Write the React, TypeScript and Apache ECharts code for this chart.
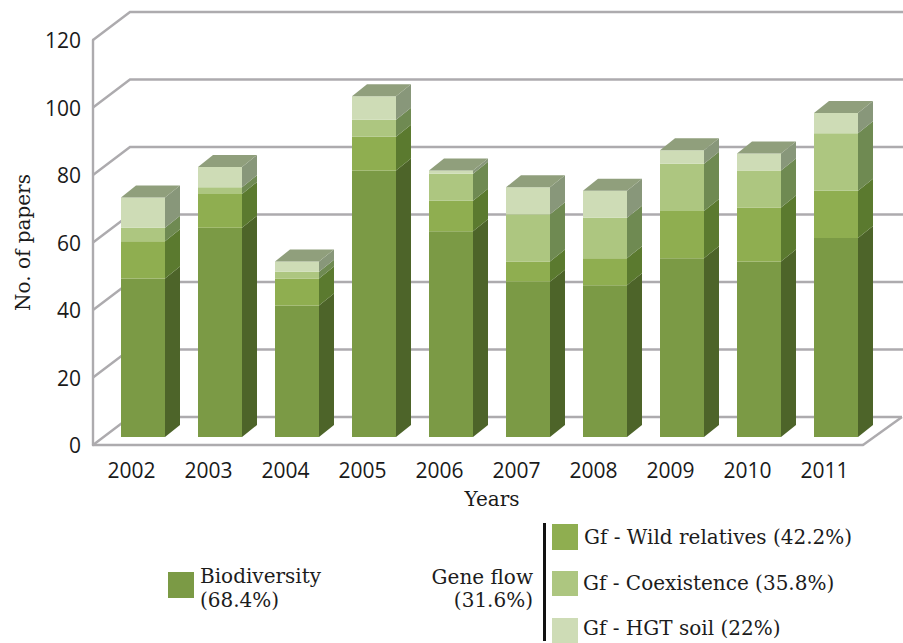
import React, { useEffect, useRef } from "react";
import * as echarts from "echarts";

const years = ["2002", "2003", "2004", "2005", "2006", "2007", "2008", "2009", "2010", "2011"];
const biodiversity = [47, 62, 39, 79, 61, 46, 45, 53, 52, 59];
const wildRelatives = [11, 10, 8, 10, 9, 6, 8, 14, 16, 14];
const coexistence = [4, 2, 2, 5, 8, 14, 12, 14, 11, 17];
const hgtSoil = [9, 6, 3, 7, 1, 8, 8, 4, 5, 6];
const wallTicks = [0, 20, 40, 60, 80, 100, 120];

const SERIF = "'DejaVu Serif', 'Liberation Serif', serif";
const SANS = "'Open Sans', 'Noto Sans', sans-serif";
const GRID_COLOR = "#adabae";

const layers = [
  { name: "Biodiversity", values: biodiversity, front: "#7b9a45", side: "#4d6429" },
  { name: "Gf - Wild relatives", values: wildRelatives, front: "#8fae50", side: "#5b7a2f" },
  { name: "Gf - Coexistence", values: coexistence, front: "#adc680", side: "#6f8a52" },
  { name: "Gf - HGT soil", values: hgtSoil, front: "#cedcb6", side: "#88977a" },
];
const layersSide = layers.map((l) => l.side);
const TOP_COLOR = "#909f7c";

// Oblique projection of the 3D chart
const WALL_DX = 38;
const WALL_DY = 28;
const BAR_DX = 11.5;
const BAR_DY = 8;
const BAR_W = 44;
const DEPTH_X = 15;
const DEPTH_Y = 12;

function barRenderer(isLast: boolean) {
  return (_params: any, api: any) => {
    const i = api.value(0);
    const base = api.coord([i, api.value(1)]);
    const top = api.coord([i, api.value(2)]);
    const x0 = base[0] + BAR_DX - BAR_W / 2;
    const x1 = x0 + BAR_W;
    const yb = base[1] - BAR_DY;
    const yt = top[1] - BAR_DY;
    const front = api.visual("color");
    const side = api.value(3);
    const children: any[] = [
      {
        type: "polygon",
        shape: { points: [[x1, yb], [x1 + DEPTH_X, yb - DEPTH_Y], [x1 + DEPTH_X, yt - DEPTH_Y], [x1, yt]] },
        style: { fill: layersSide[side] },
      },
      { type: "rect", shape: { x: x0, y: yt, width: BAR_W, height: yb - yt }, style: { fill: front } },
    ];
    if (isLast) {
      children.push({
        type: "polygon",
        shape: { points: [[x0, yt], [x1, yt], [x1 + DEPTH_X, yt - DEPTH_Y], [x0 + DEPTH_X, yt - DEPTH_Y]] },
        style: { fill: TOP_COLOR },
      });
    }
    return { type: "group", children };
  };
}

function wallRenderer(params: any, api: any) {
  const v = api.value(0);
  const cs = params.coordSys;
  const y = api.coord([0, v])[1];
  const lineStyle = { stroke: GRID_COLOR, lineWidth: 2.4, fill: "none" };
  const left = cs.x;
  const points = [[left, y], [left + WALL_DX - 1, y - WALL_DY], [v === 0 ? left + cs.width + WALL_DX + 1 : 903, y - WALL_DY]];
  const children: any[] = [{ type: "polyline", shape: { points }, style: lineStyle }];
  if (v === 0) {
    children.push({
      type: "line",
      shape: { x1: left + cs.width, y1: y, x2: left + cs.width + WALL_DX + 1, y2: y - WALL_DY },
      style: lineStyle,
    });
  }
  return { type: "group", children };
}

function buildSeries() {
  const series: any[] = [
    {
      type: "custom",
      name: "walls",
      renderItem: wallRenderer,
      data: wallTicks.map((v) => [v]),
      encode: { y: 0 },
      z: 1,
      silent: true,
    },
  ];
  const running = years.map(() => 0);
  layers.forEach((layer, li) => {
    const data = layer.values.map((v, i) => {
      const start = running[i];
      running[i] += v;
      return [i, start, running[i], li];
    });
    series.push({
      type: "custom",
      name: layer.name,
      renderItem: barRenderer(li === layers.length - 1),
      data,
      encode: { x: 0, y: 2 },
      itemStyle: { color: layer.front },
      z: 3 + li,
    });
  });
  return series;
}

const legendFont = `20px ${SERIF}`;
function legendGraphics() {
  const txt = (x: number, y: number, text: string, align = "left") => ({
    type: "text",
    x,
    y,
    style: { text, font: legendFont, fill: "#1c1c1c", textAlign: align, textVerticalAlign: "middle" },
  });
  const box = (x: number, y: number, w: number, h: number, fill: string) => ({
    type: "rect",
    shape: { x, y, width: w, height: h },
    style: { fill },
  });
  return [
    box(168, 572, 26, 26, layers[0].front),
    txt(200, 576, "Biodiversity"),
    txt(200, 600, "(68.4%)"),
    txt(533, 577, "Gene flow", "right"),
    txt(533, 600, "(31.6%)", "right"),
    { type: "rect", shape: { x: 543, y: 523, width: 3, height: 118 }, style: { fill: "#111" } },
    box(552, 524, 26, 26, layers[1].front),
    txt(584, 537, "Gf - Wild relatives (42.2%)"),
    box(552, 571, 26, 25, layers[2].front),
    txt(583, 583, "Gf - Coexistence (35.8%)"),
    box(552, 618, 26, 25, layers[3].front),
    txt(583, 628, "Gf - HGT soil (22%)"),
  ];
}

export default function App() {
  const ref = useRef<HTMLDivElement>(null);
  useEffect(() => {
    const chart = echarts.init(ref.current!, undefined, { renderer: "svg" });
    chart.setOption({
      animation: false,
      backgroundColor: "#ffffff",
      grid: { left: 93, right: 40, top: 40, bottom: 198, containLabel: false },
      xAxis: {
        type: "category",
        data: years,
        axisLine: { show: true, lineStyle: { color: GRID_COLOR, width: 2.4 } },
        axisTick: { show: false },
        axisLabel: { color: "#1a1a1a", fontFamily: SANS, fontSize: 21, margin: 14 },
        name: "Years",
        nameLocation: "middle",
        nameGap: 44,
        nameTextStyle: { color: "#1a1a1a", fontFamily: SERIF, fontSize: 20, padding: [0, 0, 0, 28] },
      },
      yAxis: {
        type: "value",
        min: 0,
        max: 120,
        interval: 20,
        axisLine: { show: true, lineStyle: { color: GRID_COLOR, width: 2.4 } },
        axisTick: { show: false },
        splitLine: { show: false },
        axisLabel: { color: "#1a1a1a", fontFamily: SANS, fontSize: 21, margin: 12 },
        name: "No. of papers",
        nameLocation: "middle",
        nameGap: 60,
        nameRotate: 90,
        nameTextStyle: { color: "#1a1a1a", fontFamily: SERIF, fontSize: 20 },
      },
      series: buildSeries(),
      graphic: legendGraphics(),
    });
    return () => chart.dispose();
  }, []);
  return (
    <div
      ref={ref}
      style={{ position: "absolute", left: 0, top: 0, width: 903, height: 643, overflow: "hidden" }}
    />
  );
}
